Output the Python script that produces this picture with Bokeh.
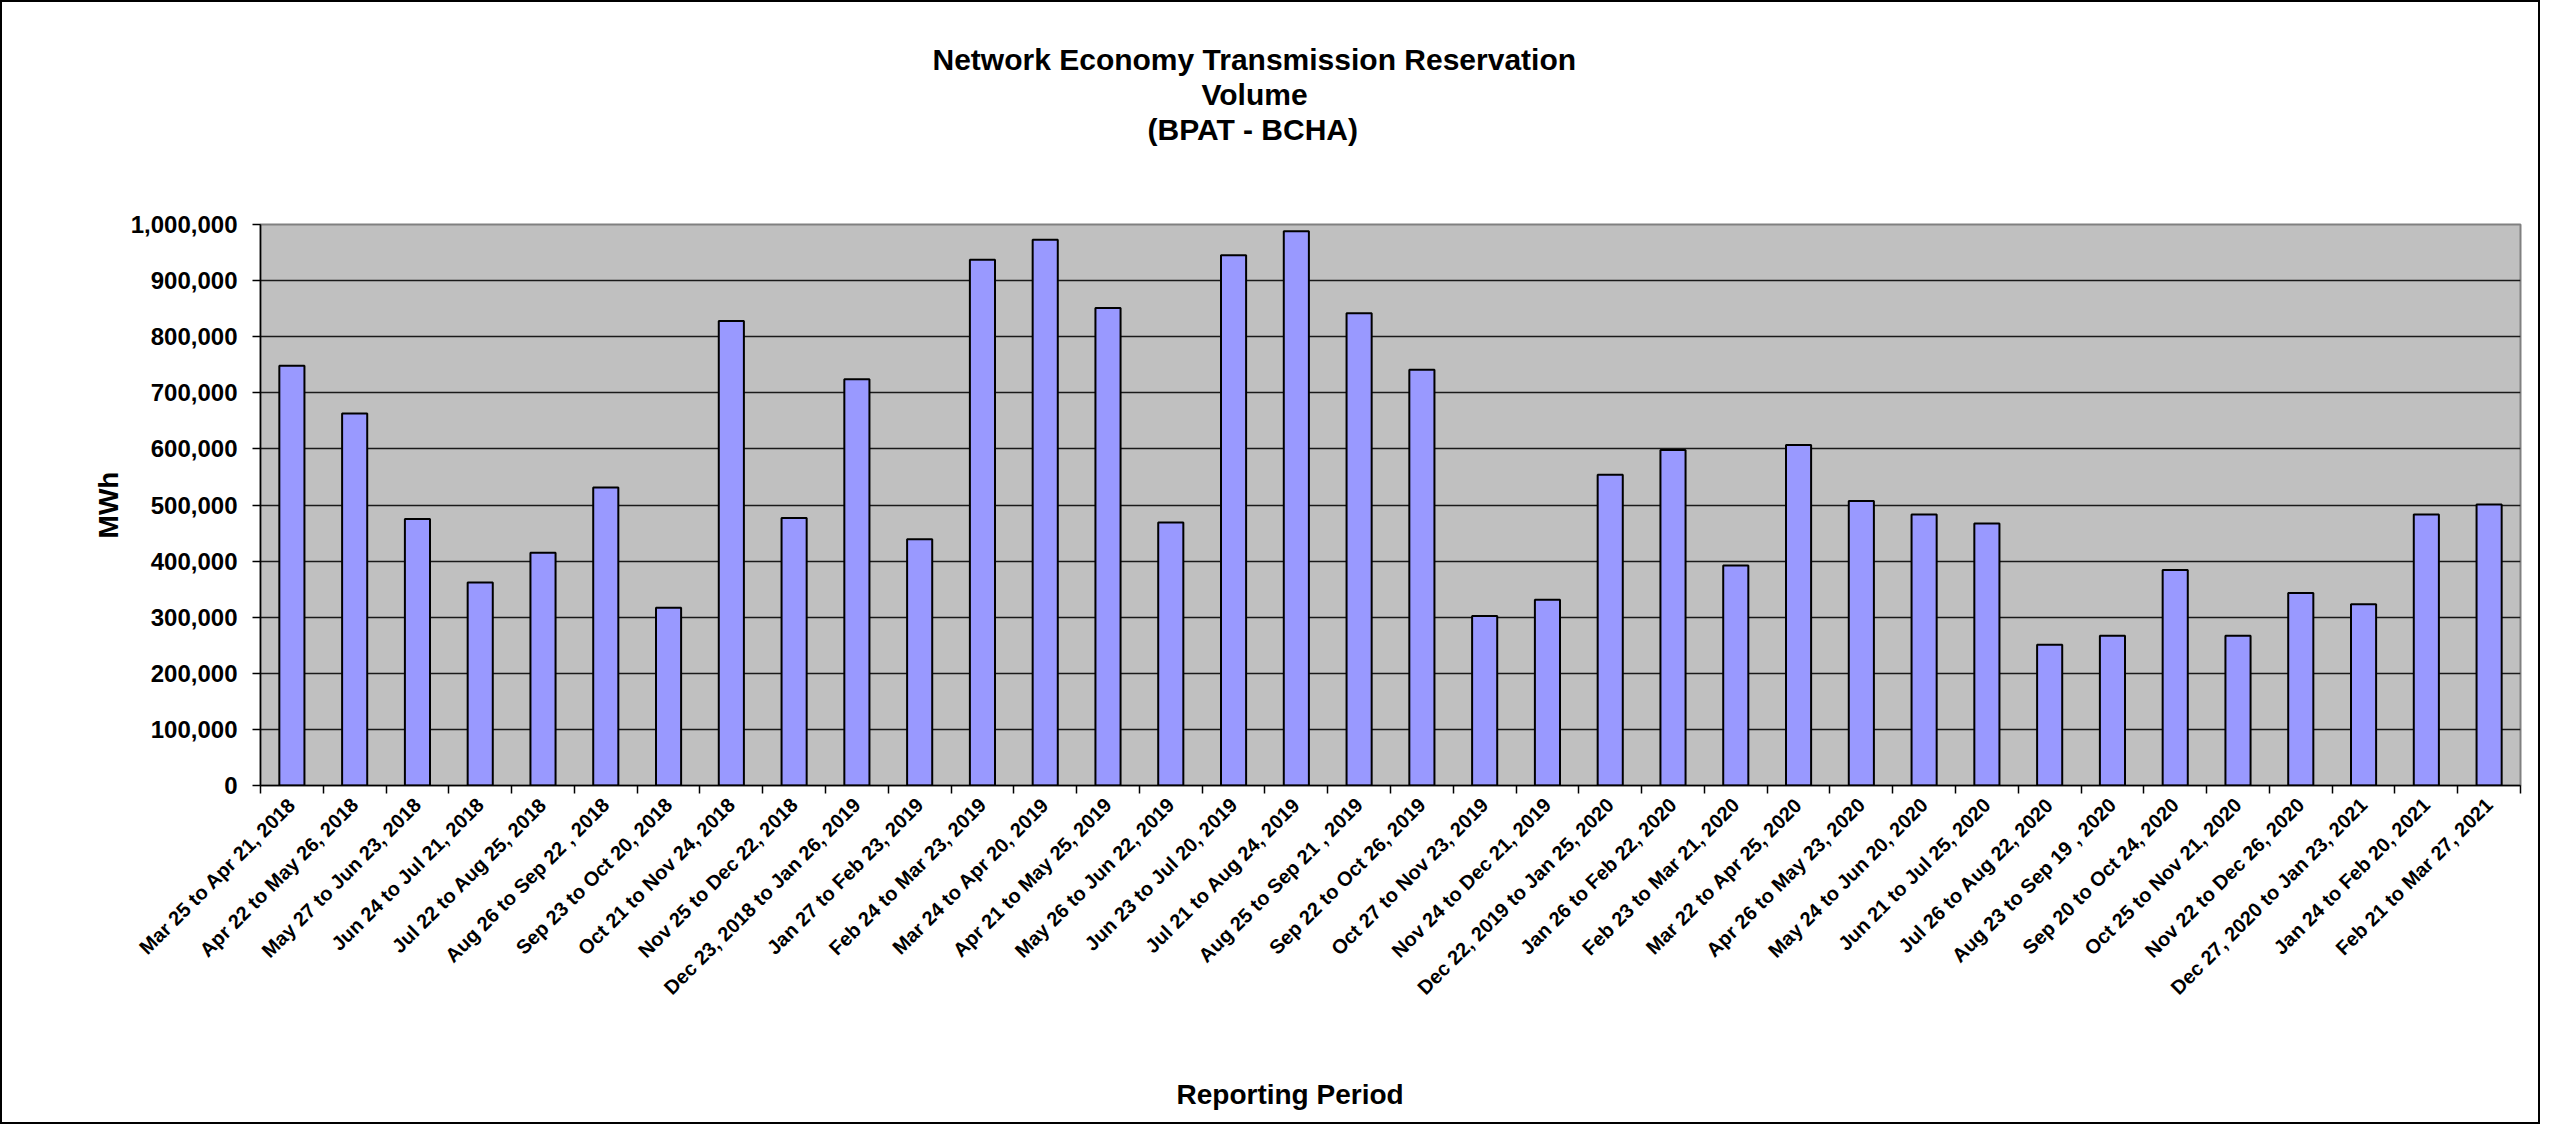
import math
from bokeh.plotting import figure
from bokeh.models import (FactorRange, Range1d, LinearAxis, CategoricalAxis, FixedTicker,
                          NumeralTickFormatter, Title, Grid, ColumnDataSource)
from bokeh.embed import file_html
from bokeh.resources import INLINE

# ---------------- data ----------------
periods = [
    "Mar 25 to Apr 21, 2018", "Apr 22 to May 26, 2018", "May 27 to Jun 23, 2018",
    "Jun 24 to Jul 21, 2018", "Jul 22 to Aug 25, 2018", "Aug 26 to Sep 22 , 2018",
    "Sep 23 to Oct 20, 2018", "Oct 21 to Nov 24, 2018", "Nov 25 to Dec 22, 2018",
    "Dec 23, 2018 to Jan 26, 2019", "Jan 27 to Feb 23, 2019", "Feb 24 to Mar 23, 2019",
    "Mar 24 to Apr 20, 2019", "Apr 21 to May 25, 2019", "May 26 to Jun 22, 2019",
    "Jun 23 to Jul 20, 2019", "Jul 21 to Aug 24, 2019", "Aug 25 to Sep 21 , 2019",
    "Sep 22 to Oct 26, 2019", "Oct 27 to Nov 23, 2019", "Nov 24 to Dec 21, 2019",
    "Dec 22, 2019 to Jan 25, 2020", "Jan 26 to Feb 22, 2020", "Feb 23 to Mar 21, 2020",
    "Mar 22 to Apr 25, 2020", "Apr 26 to May 23, 2020", "May 24 to Jun 20, 2020",
    "Jun 21 to Jul 25, 2020", "Jul 26 to Aug 22, 2020", "Aug 23 to Sep 19 , 2020",
    "Sep 20 to Oct 24, 2020", "Oct 25 to Nov 21, 2020", "Nov 22 to Dec 26, 2020",
    "Dec 27, 2020 to Jan 23, 2021", "Jan 24 to Feb 20, 2021", "Feb 21 to Mar 27, 2021",
]

volumes = [
    748000, 663000, 475000, 362000, 415000, 531000,
    317000, 828000, 477000, 724000, 439000, 937000,
    973000, 851000, 469000, 945000, 988000, 842000,
    741000, 302000, 331000, 554000, 598000, 392000,
    607000, 507000, 483000, 467000, 251000, 267000,
    384000, 267000, 343000, 323000, 483000, 501000,
]

y_ticks = [0, 100000, 200000, 300000, 400000, 500000,
           600000, 700000, 800000, 900000, 1000000]

title_lines = ["Network Economy Transmission Reservation", "Volume", "(BPAT - BCHA)"]
y_label = "MWh"
x_label = "Reporting Period"

FONT = "Liberation Sans"

# ---------------- figure ----------------
src = ColumnDataSource(data=dict(period=periods, volume=volumes))

p = figure(width=2540, height=1124,
           x_range=FactorRange(*periods), y_range=Range1d(y_ticks[0], y_ticks[-1]),
           output_backend="svg", toolbar_location=None,
           x_axis_location=None, y_axis_location=None,
           min_border_left=258, min_border_right=22,
           min_border_top=222, min_border_bottom=341,
           background_fill_color="#C0C0C0", border_fill_color="white",
           outline_line_color="#808080", outline_line_width=2)

p.xgrid.visible = False
p.ygrid.visible = False

p.add_layout(Grid(dimension=1, ticker=FixedTicker(ticks=y_ticks),
                  grid_line_color="#1a1a1a", grid_line_width=1.3))

# y axis
yaxis = LinearAxis(ticker=FixedTicker(ticks=y_ticks),
                   formatter=NumeralTickFormatter(format="0,0"),
                   axis_label=y_label)
yaxis.axis_line_color = "black"
yaxis.axis_line_width = 1.5
yaxis.major_tick_out = 8
yaxis.major_tick_in = 0
yaxis.major_tick_line_color = "black"
yaxis.major_tick_line_width = 1.5
yaxis.minor_tick_line_color = None
yaxis.major_label_text_font = FONT
yaxis.major_label_text_font_style = "bold"
yaxis.major_label_text_font_size = "24px"
yaxis.major_label_text_color = "black"
yaxis.major_label_standoff = 15
yaxis.axis_label_text_font = FONT
yaxis.axis_label_text_font_style = "bold"
yaxis.axis_label_text_font_size = "28px"
yaxis.axis_label_text_color = "black"
yaxis.axis_label_standoff = 4
p.add_layout(yaxis, "left")

# x axis: boundary tick marks between categories (closest to frame), then category labels
tick_axis = LinearAxis(ticker=FixedTicker(ticks=list(range(len(periods) + 1))))
tick_axis.axis_line_color = "black"
tick_axis.axis_line_width = 1.5
tick_axis.major_tick_out = 8
tick_axis.major_tick_in = 0
tick_axis.major_tick_line_color = "black"
tick_axis.major_tick_line_width = 1.5
tick_axis.minor_tick_line_color = None
tick_axis.major_label_text_font_size = "1px"
tick_axis.major_label_text_color = None
tick_axis.major_label_standoff = 0
p.add_layout(tick_axis, "below")

cat_axis = CategoricalAxis()
cat_axis.axis_line_color = None
cat_axis.major_tick_line_color = None
cat_axis.minor_tick_line_color = None
cat_axis.major_label_orientation = math.pi / 4
cat_axis.major_label_standoff = 2
cat_axis.major_label_text_font = FONT
cat_axis.major_label_text_font_style = "bold"
cat_axis.major_label_text_font_size = "20px"
cat_axis.major_label_text_color = "black"
p.add_layout(cat_axis, "below")

# x axis title (placed under the tick labels)
p.add_layout(Title(text="\n\n" + x_label, align="left", offset=916, vertical_align="top",
                   standoff=14, text_font=FONT, text_font_style="bold",
                   text_font_size="28px", text_color="black"), "below")

# bars
p.vbar(x="period", top="volume", source=src, width=0.4,
       fill_color="#9999FF", line_color="black", line_width=2)

# chart title: three lines stacked above the frame (nearest first)
p.add_layout(Title(text="", standoff=0), "above")
spacer = Title(text=" ", text_font_size="2px", standoff=75)
p.add_layout(spacer, "above")
title_offsets = [672, 941, 887]
for line, off in reversed(list(zip(title_lines, title_offsets))):
    p.add_layout(Title(text=line, align="left", offset=off, standoff=0,
                       text_font=FONT, text_font_style="bold",
                       text_font_size="30px", text_color="black"), "above")

p.styles = {"border": "2px solid black"}

open("out.html", "w").write(file_html(p, INLINE))
